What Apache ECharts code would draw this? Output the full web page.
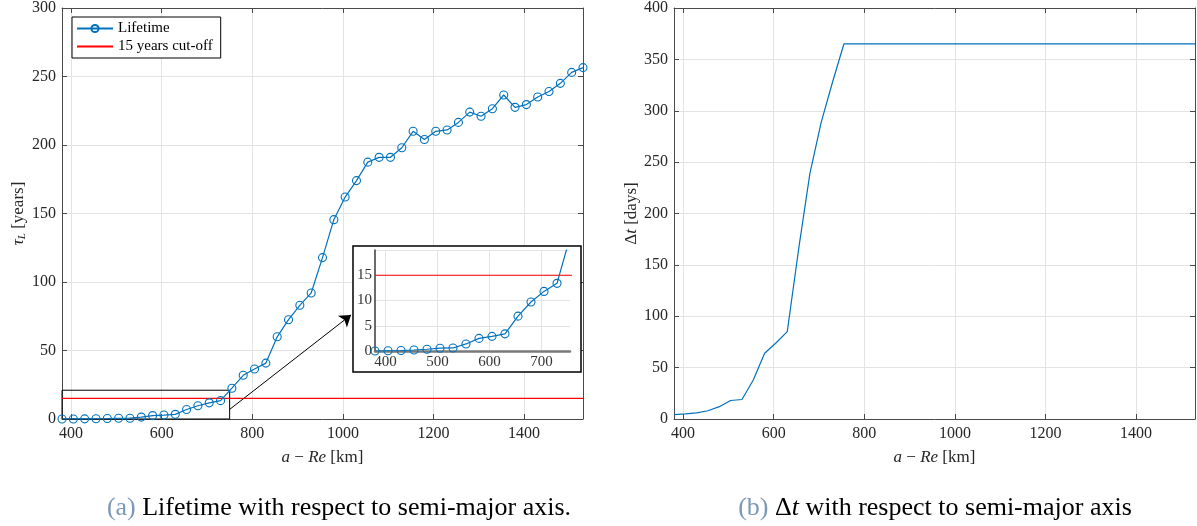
<!DOCTYPE html>
<html>
<head>
<meta charset="utf-8">
<script src="https://cdn.jsdelivr.net/npm/echarts@6/dist/echarts.min.js"></script>
<style>
html,body{margin:0;padding:0;background:#fff;}
#chart{width:1197px;height:526px;}
</style>
</head>
<body>
<div id="chart"></div>
<script>
// ---- data ----
const altitudeKm = [380,405,430,455,480,505,530,555,580,605,630,655,680,705,730,755,780,805,830,855,880,905,930,955,980,1005,1030,1055,1080,1105,1130,1155,1180,1205,1230,1255,1280,1305,1330,1355,1380,1405,1430,1455,1480,1505,1530];
const lifetimeYears = [0,0.05,0.1,0.2,0.35,0.55,0.6,1.4,2.5,2.9,3.4,6.9,9.7,11.8,13.4,22.5,31.9,36.5,40.8,60,72.5,83,92,117.8,145.5,162,174,187.5,191,191,198,210,204,210,211,216.5,224,221,226.5,236.5,227.5,229.5,235,239,245,253,256.5];
const deltaTDays = [4.2,5,6,8,12,18,19,38,64,74,85,165,239,289,328,365,365,365,365,365,365,365,365,365,365,365,365,365,365,365,365,365,365,365,365,365,365,365,365,365,365,365,365,365,365,365,365];
const cutoffX = [380,1530];
const cutoffY = [15,15];
const xTicks = [400,600,800,1000,1200,1400];
const insetXTicks = [400,500,600,700];
const zoomBoxX = [380,750];
const zoomBoxY = [0,21];
const arrowFrom = [750,7];
const arrowTo = [1018,76];
const captionA = '{p|(a)} Lifetime with respect to semi-major axis.';
const captionB = '{p|(b)} Δ{i|t} with respect to semi-major axis';

const FONT = 'Liberation Serif';
const BLUE = '#0072BD';
const AX = '#4a4a4a';
const GRID = '#e3e3e3';
const plain = v => String(v);

const lifePts = altitudeKm.map((x,i)=>[x,lifetimeYears[i]]);
const dtPts = altitudeKm.map((x,i)=>[x,deltaTDays[i]]);
const cutPts = cutoffX.map((x,i)=>[x,cutoffY[i]]);

function xMain(gi, pos, show){
  return {
    type:'value', gridIndex:gi, position:pos, min:380, max:1530,
    axisLine:{show:true, onZero:false, lineStyle:{color:AX,width:1}},
    axisTick:{show:true, inside:true, length:5, customValues:xTicks, lineStyle:{color:AX}},
    axisLabel:{show:show, customValues:xTicks, formatter:plain, fontFamily:FONT, fontSize:16, color:'#262626', margin:7},
    splitLine:{show:show, lineStyle:{color:GRID,width:1}},
    name: show ? '{i|a} − {i|Re} [km]' : '',
    nameLocation:'middle', nameGap:30,
    nameTextStyle:{fontFamily:FONT, fontSize:17, color:'#262626',
      rich:{i:{fontFamily:FONT, fontSize:17, fontStyle:'italic', color:'#262626'}}}
  };
}
function yMain(gi, pos, show, max, name, gap){
  return {
    type:'value', gridIndex:gi, position:pos, min:0, max:max, interval:50,
    axisLine:{show:true, onZero:false, lineStyle:{color:AX,width:1}},
    axisTick:{show:true, inside:true, length:5, lineStyle:{color:AX}},
    axisLabel:{show:show, formatter:plain, fontFamily:FONT, fontSize:16, color:'#262626', margin:6},
    splitLine:{show:show, lineStyle:{color:GRID,width:1}},
    name: show ? name : '', nameLocation:'middle', nameGap:gap, nameRotate:90,
    nameTextStyle:{fontFamily:FONT, fontSize:17, color:'#262626',
      rich:{
        i:{fontFamily:FONT, fontSize:17, fontStyle:'italic', color:'#262626', lineHeight:20},
        n:{fontFamily:FONT, fontSize:17, color:'#262626', lineHeight:20},
        s:{fontFamily:FONT, fontSize:11, fontStyle:'italic', color:'#262626', verticalAlign:'bottom', lineHeight:20, padding:[6,0,0,0]}
      }}
  };
}

const chart = echarts.init(document.getElementById('chart'), null, {renderer:'canvas'});
const capStyle = {fontFamily:FONT, fontSize:26, fontWeight:'normal', color:'#000',
  rich:{p:{fontFamily:FONT, fontSize:26, color:'#7b98b8'},
        i:{fontFamily:FONT, fontSize:26, fontStyle:'italic', color:'#000'}}};
const markerStyle = {color:'rgba(255,255,255,0)', borderColor:BLUE, borderWidth:1.1};
const option = {
  animation:false,
  backgroundColor:'#fff',
  title:[
    {text:captionA, left:334, top:490, textAlign:'center', textStyle:capStyle},
    {text:captionB, left:930, top:490, textAlign:'center', textStyle:capStyle}
  ],
  legend:{
    data:[{name:'Lifetime'},{name:'15 years cut-off', itemStyle:{opacity:0}}], orient:'vertical', left:72, top:17,
    backgroundColor:'#fff', borderColor:'#000', borderWidth:1, borderRadius:0,
    padding:[4,8,4,4], itemGap:3, itemWidth:36, itemHeight:9,
    textStyle:{fontFamily:FONT, fontSize:15, color:'#000'}
  },
  grid:[
    {left:62, top:7, width:521, height:412},
    {left:674, top:7, width:521, height:412},
    {left:375, top:250, width:195, height:101, zlevel:1, z:1}
  ],
  graphic:[
    {type:'rect', zlevel:1, z:0, shape:{x:353, y:246, width:228, height:126},
     style:{fill:'#fff', stroke:'#000', lineWidth:1.5}}
  ],
  xAxis:[
    xMain(0,'bottom',true),
    xMain(0,'top',false),
    xMain(1,'bottom',true),
    xMain(1,'top',false),
    {type:'value', gridIndex:2, min:380, max:755, zlevel:1, z:2,
     axisLine:{show:true, onZero:false, lineStyle:{color:'#7a7a7a', width:2.5}},
     axisTick:{show:false, customValues:insetXTicks},
     axisLabel:{customValues:insetXTicks, formatter:plain, fontFamily:FONT, fontSize:15, color:'#333', margin:4},
     splitLine:{show:true, lineStyle:{color:GRID}}}
  ],
  yAxis:[
    yMain(0,'left',true,300,'{i|τ}{s|L} [years]',32),
    yMain(0,'right',false,300,'',0),
    yMain(1,'left',true,400,'{n|Δ}{i|t} [days]',31),
    yMain(1,'right',false,400,'',0),
    {type:'value', gridIndex:2, min:0, max:20, interval:5, zlevel:1, z:2,
     axisLine:{show:true, onZero:false, lineStyle:{color:'#3a3a3a', width:1.5}},
     axisTick:{show:false},
     axisLabel:{showMaxLabel:false, fontFamily:FONT, fontSize:15, color:'#333', margin:3},
     splitLine:{show:true, lineStyle:{color:GRID}}}
  ],
  series:[
    {name:'Lifetime', type:'line', xAxisIndex:0, yAxisIndex:0, data:lifePts,
     symbol:'circle', symbolSize:8, showAllSymbol:true,
     lineStyle:{color:BLUE, width:1.2}, itemStyle:markerStyle, z:3},
    {name:'15 years cut-off', type:'line', xAxisIndex:0, yAxisIndex:0, data:cutPts,
     symbol:'none', lineStyle:{color:'#ff0000', width:1.2}, itemStyle:{color:'#ff0000'}, z:2,
     markArea:{silent:true, itemStyle:{color:'rgba(0,0,0,0)', borderColor:'#000', borderWidth:1},
       data:[[{coord:[zoomBoxX[0],zoomBoxY[0]]},{coord:[zoomBoxX[1],zoomBoxY[1]]}]]},
     markLine:{silent:true, symbol:['none','arrow'], symbolSize:11, label:{show:false},
       lineStyle:{color:'#000', width:1, type:'solid'},
       data:[[{coord:arrowFrom},{coord:arrowTo}]]}},
    {name:'Lifetime (inset)', type:'line', xAxisIndex:4, yAxisIndex:4, data:lifePts, zlevel:1, z:4,
     symbol:'circle', symbolSize:8, showAllSymbol:true, clip:true,
     lineStyle:{color:BLUE, width:1.2}, itemStyle:markerStyle},
    {name:'cut-off (inset)', type:'line', xAxisIndex:4, yAxisIndex:4, data:cutPts, zlevel:1, z:3,
     symbol:'none', clip:true, lineStyle:{color:'#ff0000', width:1.2}},
    {name:'Δt', type:'line', xAxisIndex:2, yAxisIndex:2, data:dtPts,
     symbol:'none', lineStyle:{color:BLUE, width:1.2}}
  ]
};
chart.setOption(option);
</script>
</body>
</html>
